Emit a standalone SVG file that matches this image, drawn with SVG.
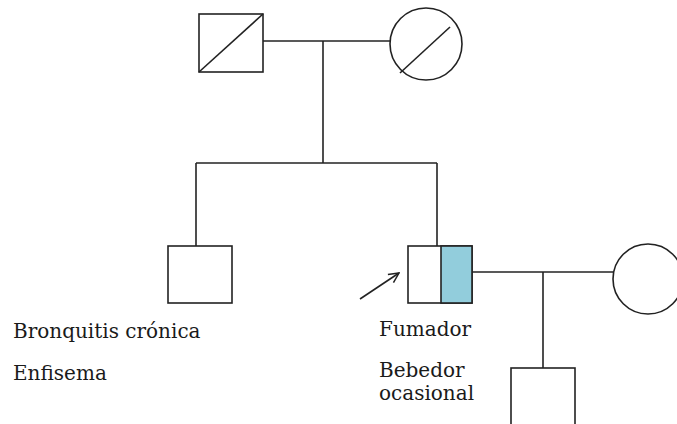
<svg xmlns="http://www.w3.org/2000/svg" width="677" height="424" viewBox="0 0 677 424">
  <defs>
    <style>
      .ln { stroke: #222; stroke-width: 1.6; fill: none; }
      .nd { stroke: #222; stroke-width: 1.6; fill: #fff; }
      .lbl { font-family: "DejaVu Serif", "Liberation Serif", serif; font-size: 20px; fill: #1a1a1a; }
    </style>
    <marker id="arrowHead" viewBox="0 0 12 12" refX="11" refY="6" markerWidth="12" markerHeight="12" markerUnits="userSpaceOnUse" orient="auto">
      <path d="M1,1 L11,6 L1,11" fill="none" stroke="#222" stroke-width="1.5"/>
    </marker>
  </defs>
  <rect width="677" height="424" fill="#fff"/>

  <!-- connectors -->
  <g id="connectors">
    <line class="ln" x1="263" y1="41" x2="390" y2="41"/>
    <line class="ln" x1="323" y1="41" x2="323" y2="163"/>
    <line class="ln" x1="196" y1="163" x2="437" y2="163"/>
    <line class="ln" x1="196" y1="163" x2="196" y2="246"/>
    <line class="ln" x1="437" y1="163" x2="437" y2="246"/>
    <line class="ln" x1="472" y1="272" x2="613" y2="272"/>
    <line class="ln" x1="543" y1="272" x2="543" y2="368"/>
    <line class="ln" x1="360" y1="299" x2="399" y2="273" marker-end="url(#arrowHead)"/>
  </g>

  <!-- grandfather (deceased) -->
  <g id="grandfather">
    <rect class="nd" x="199" y="14" width="64" height="58"/>
    <line class="ln" x1="199" y1="72" x2="263" y2="14"/>
  </g>

  <!-- grandmother (deceased) -->
  <g id="grandmother">
    <circle class="nd" cx="426" cy="44" r="36"/>
    <line class="ln" x1="400" y1="73" x2="450" y2="27"/>
  </g>

  <!-- uncle -->
  <g id="uncle">
    <rect class="nd" x="168" y="246" width="64" height="57"/>
    <text class="lbl" x="13" y="338">Bronquitis crónica</text>
    <text class="lbl" x="13" y="380">Enfisema</text>
  </g>

  <!-- proband -->
  <g id="proband">
    <rect class="nd" x="408" y="246" width="64" height="57"/>
    <rect x="441" y="246" width="31" height="57" fill="#92cddc" stroke="#222" stroke-width="1.6"/>
    <text class="lbl" x="379" y="336">Fumador</text>
    <text class="lbl" x="379" y="377">Bebedor</text>
    <text class="lbl" x="379" y="400">ocasional</text>
  </g>

  <!-- spouse -->
  <g id="spouse">
    <circle class="nd" cx="648" cy="279" r="35"/>
  </g>

  <!-- son -->
  <g id="son">
    <rect class="nd" x="511" y="368" width="64" height="70"/>
  </g>
</svg>
